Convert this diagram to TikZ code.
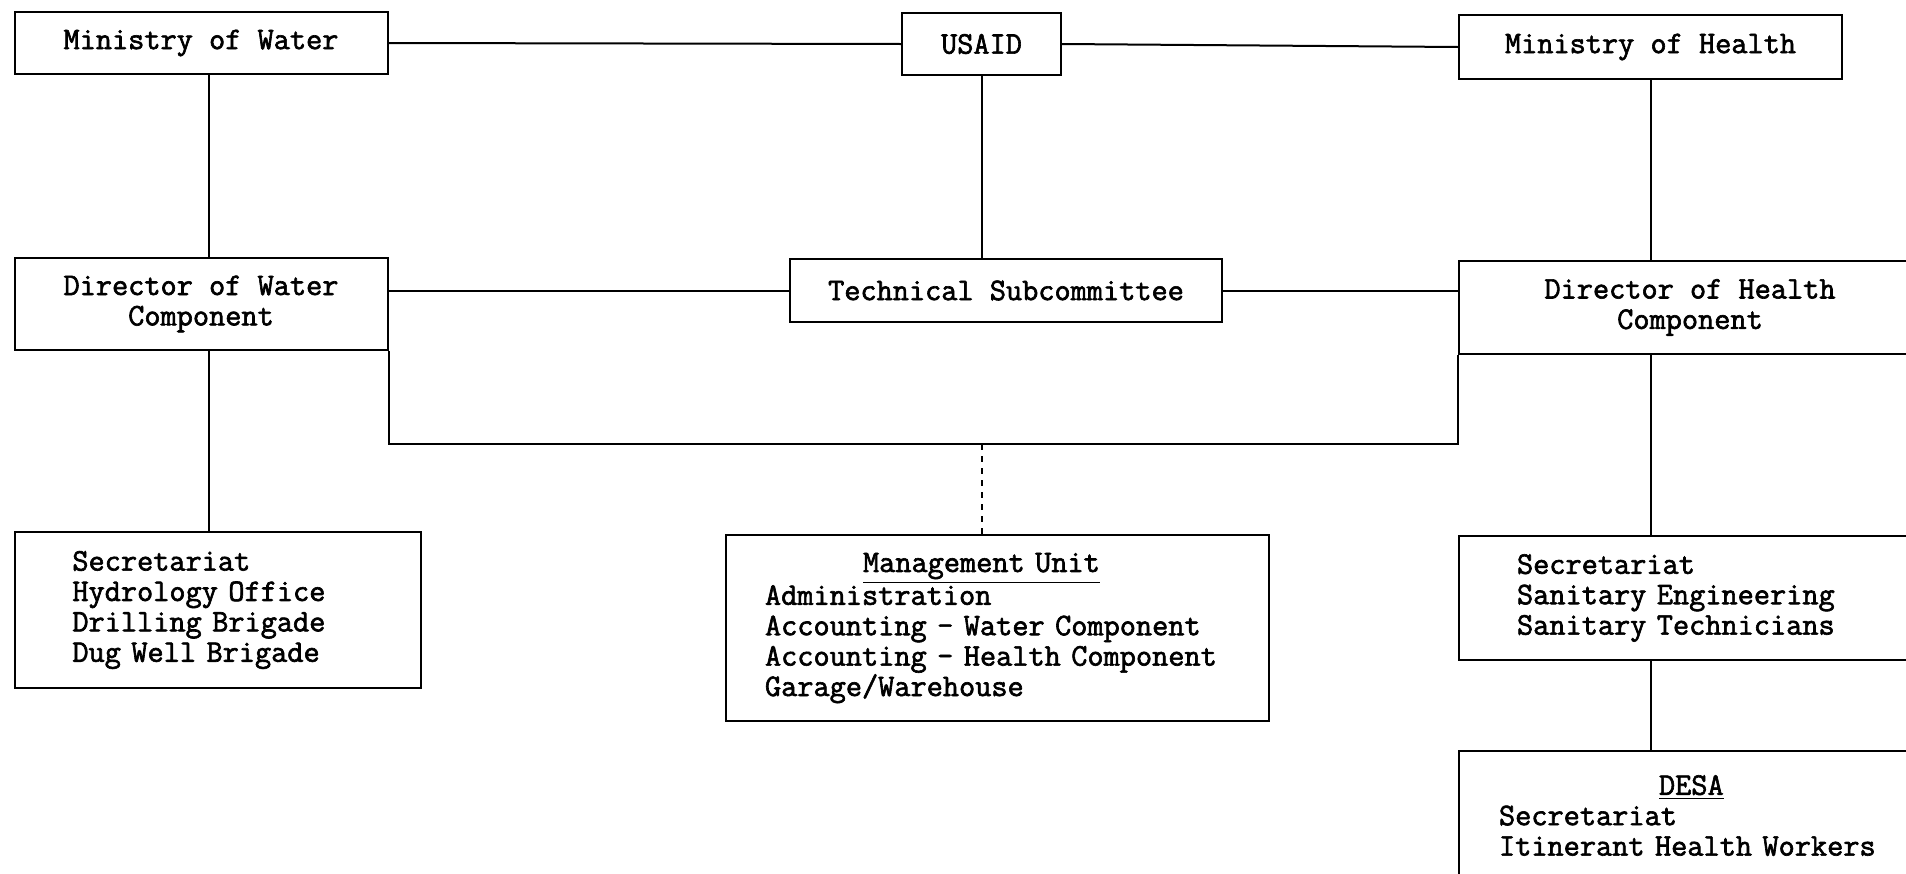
\documentclass[tikz,border=0pt]{standalone}
\usepackage{fontspec}
\setmonofont[FakeBold=2]{Latin Modern Mono}
\usepackage{tikz}
\newcommand{\chartfont}{\ttfamily\fontsize{15.7pt}{15.2pt}\selectfont}
\tikzset{
orgboxv1/.style={rectangle, draw=black!100, fill=none, line width=1pt, inner sep=0pt, align=center, font=\chartfont},
listboxv1/.style={rectangle, draw=black!100, fill=none, line width=1pt, inner ysep=0pt, align=left, font=\chartfont},
orgline/.style={line width=1pt, black},
}

\begin{document}
\begin{tikzpicture}[x=0.5pt, y=-0.5pt]
\useasboundingbox (0,0) rectangle (1906,873);
\clip (0,0) rectangle (1906,873);

\node[orgboxv1, minimum width=186.5pt, minimum height=31pt] at (201,43) (mow) {Ministry of Water};
\node[orgboxv1, minimum width=79.5pt, minimum height=31pt] at (981.5,44) (usaid) {USAID};
\node[orgboxv1, minimum width=191.5pt, minimum height=32pt] at (1650.5,47) (moh) {Ministry of Health};
\node[orgboxv1, minimum width=186.5pt, minimum height=46pt] at (201,304) (dow) {Director of Water\\Component};
\node[orgboxv1, minimum width=216pt, minimum height=31.5pt] at (1006,290.5) (tsc) {Technical Subcommittee};
\node[orgboxv1, minimum width=231pt, minimum height=46.5pt] at (1690,307.5) (doh) {Director of Health\\Component};

\node[listboxv1, minimum height=78pt, inner xsep=28.7pt, text width=145.6pt] at (218,610) (wsub) {Secretariat\\Hydrology Office\\Drilling Brigade\\Dug Well Brigade};
\node[listboxv1, minimum height=93pt, inner xsep=19.5pt, text width=232.5pt] at (997.5,628) (mu) {\hspace*{49pt}\underline{Management Unit}\\Administration\\\mbox{Accounting - Water Component}\\\mbox{Accounting - Health Component}\\Garage/Warehouse};
\node[listboxv1, minimum height=62pt, inner xsep=29pt, text width=173pt] at (1690,598) (hsub) {Secretariat\\Sanitary Engineering\\Sanitary Technicians};
\node[listboxv1, minimum height=64.5pt, inner xsep=20pt, text width=191pt] at (1690,815.5) (desa) {\hspace*{80pt}\underline{DESA}\\Secretariat\\\mbox{Itinerant Health Workers}};

\coordinate (bar) at (982,444);

% top row
\draw[orgline] (mow.east) -- (usaid.west);
\draw[orgline] (usaid.east) -- (moh.west);
\draw[orgline] ([xshift=4pt]mow.south) -- ([xshift=4pt]mow.south |- dow.north);
\draw[orgline] (usaid.south) -- (usaid.south |- tsc.north);
\draw[orgline] (moh.south) -- (moh.south |- doh.north);

% directors and subcommittee
\draw[orgline] (tsc.west -| dow.east) -- (tsc.west);
\draw[orgline] (tsc.east) -- (tsc.east -| doh.west);
\draw[orgline] (dow.south east) |- (bar) -| (doh.south west);
\draw[orgline, dashed] (bar) -- (bar |- mu.north);

% units
\draw[orgline] ([xshift=4pt]dow.south) -- ([xshift=4pt]dow.south |- wsub.north);
\draw[orgline] (moh.south |- doh.south) -- (moh.south |- hsub.north);
\draw[orgline] (moh.south |- hsub.south) -- (moh.south |- desa.north);
\end{tikzpicture}
\end{document}
